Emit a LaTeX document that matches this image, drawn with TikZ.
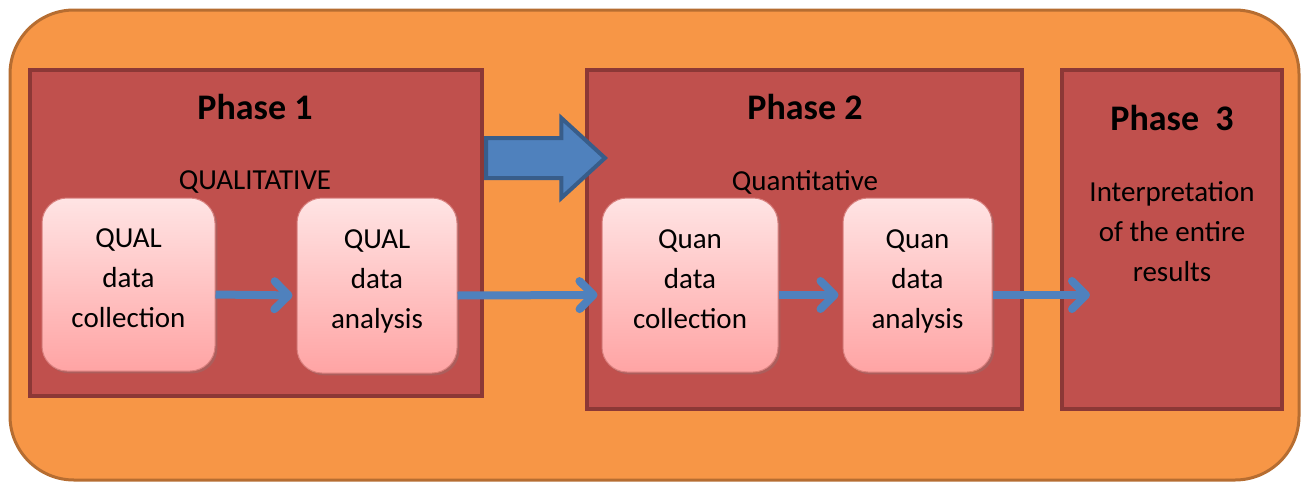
\documentclass[tikz,border=0pt]{standalone}
\usepackage{fontspec}
\setmainfont{Carlito}
\usetikzlibrary{arrows.meta,shapes.arrows,shadows}
\definecolor{framefill}{HTML}{F79646}
\definecolor{frameline}{HTML}{B66D31}
\definecolor{phasefill}{HTML}{C0504D}
\definecolor{phaseline}{HTML}{8C3836}
\definecolor{steptop}{HTML}{FFE4E4}
\definecolor{stepbot}{HTML}{FFA4A4}
\definecolor{stepline}{HTML}{D9807E}
\definecolor{flowblue}{HTML}{4F81BD}
\definecolor{flowline}{HTML}{385D8A}

\begin{document}
\begin{tikzpicture}[x=0.5pt,y=-0.5pt,font=\fontsize{14.5}{20}\selectfont,
  frame/.style={fill=framefill,draw=frameline,line width=1.5pt,rounded corners=32pt},
  phase/.style={fill=phasefill,draw=phaseline,line width=2pt},
  stepbox/.style={rounded corners=12.5pt,top color=steptop,bottom color=stepbot,draw=stepline,line width=0.5pt,
    align=center,inner sep=0pt,text depth=6pt,drop shadow={shadow xshift=1.2pt,shadow yshift=-1.2pt,opacity=0.3}},
  title/.style={font=\fontsize{18}{22}\selectfont\bfseries},
  flow/.style={draw=flowblue,line width=4pt,shorten >=2pt,-{Straight Barb[length=7pt,width=14pt,round]}},
  jump/.style={single arrow,fill=flowblue,draw=flowline,line width=2pt,inner sep=9pt,
    minimum height=59.5pt,single arrow head extend=10pt,single arrow tip angle=85}]
\useasboundingbox (0,0) rectangle (1306,487);
\draw[frame] (10,10) rectangle (1299,480);
% the three phases
\draw[phase] (30,70) rectangle (482,396);
\draw[phase] (587,70) rectangle (1022,409);
\draw[phase] (1062,70) rectangle (1282,409);
\node[title] (p1title) at (255,107) {Phase 1};
\node (p1kind) at (255,182) {QUALITATIVE};
\node[title] (p2title) at (805,107) {Phase 2};
\node (p2kind) at (805,182) {Quantitative};
\node[title] (p3title) at (1172,118) {Phase\ \ 3};
\node[align=center] (p3text) at (1172,232) {Interpretation\\of the entire\\results};
\node[jump,anchor=tail] (jump) at (484,158) {};
% steps
\node[stepbox,minimum width=86.5pt,minimum height=86.5pt] (qualcol) at (128.5,284.5) {QUAL\\data\\collection};
\node[stepbox,minimum width=80pt,minimum height=87.5pt] (qualana) at (377,285.5) {QUAL\\data\\analysis};
\node[stepbox,minimum width=88pt,minimum height=87pt] (quancol) at (690,285) {Quan\\data\\collection};
\node[stepbox,minimum width=74.5pt,minimum height=87pt] (quanana) at (917.5,285) {Quan\\data\\analysis};
\coordinate (p3in) at (1094,295);
\draw[flow] ([yshift=-5pt]qualcol.east) -- ([yshift=-5pt]qualana.west);
\draw[flow] ([yshift=-5pt]qualana.east) -- ([yshift=-5pt]quancol.west);
\draw[flow] ([yshift=-5pt]quancol.east) -- ([yshift=-5pt]quanana.west);
\draw[flow] ([yshift=-5pt]quanana.east) -- (p3in);
\end{tikzpicture}
\end{document}
